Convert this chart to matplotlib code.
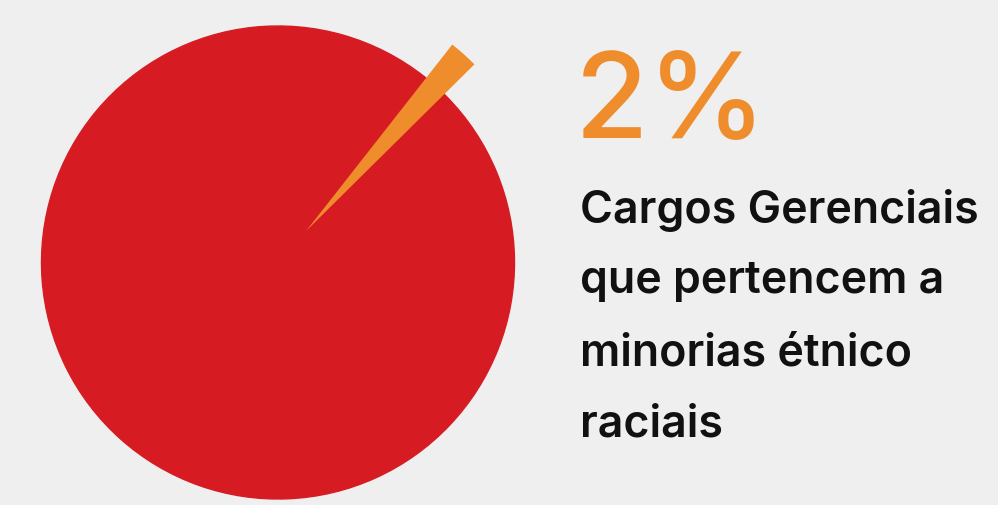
import matplotlib
matplotlib.use('Agg')
import matplotlib.pyplot as plt

# data
labels = ['Minorias étnico raciais', 'Demais']
shares = [2, 98]
colors = ['#ef8c2c', '#d61c22']
headline = '2%'
caption_lines = ['Cargos Gerenciais', 'que pertencem a', 'minorias étnico', 'raciais']

W, H = 998, 505
bg = '#efefef'
fig = plt.figure(figsize=(W / 100, H / 100), dpi=100, facecolor=bg)

# pie axes, placed in pixels
cx, cy, r = 278, 262.5, 236.5
ax = fig.add_axes([(cx - r) / W, (H - cy - r) / H, 2 * r / W, 2 * r / H])
ax.set_facecolor(bg)
start = 44.7
# base disc: every slice in red, so the slot left by the pulled-out slice stays red
base, _ = ax.pie(shares, colors=[colors[1]] * len(shares), startangle=start,
                 wedgeprops=dict(linewidth=1, edgecolor=colors[1]))
# the highlighted slice, pulled out
top, _ = ax.pie(shares, colors=[colors[0], 'none'], startangle=start,
                explode=[0.18, 0], wedgeprops=dict(linewidth=0))
for w in base + top:
    w.set_clip_on(False)
for w in top:
    w.set_zorder(3)
ax.set_xlim(-1, 1)
ax.set_ylim(-1, 1)
ax.set_aspect('equal')
ax.axis('off')

fam = ['Inter', 'DejaVu Sans']
fig.text(575 / W, 1 - 138 / H, headline, color=colors[0], fontsize=86,
         family=fam, fontweight='medium', va='baseline', ha='left')
x0 = 580 / W
baselines = [222.7, 293.5, 365, 436.5]
for line, b in zip(caption_lines, baselines):
    fig.text(x0, 1 - b / H, line, color='#111111', fontsize=32.2,
             family=fam, fontweight='semibold', va='baseline', ha='left')

fig.savefig('out.png', dpi=100, facecolor=bg)
